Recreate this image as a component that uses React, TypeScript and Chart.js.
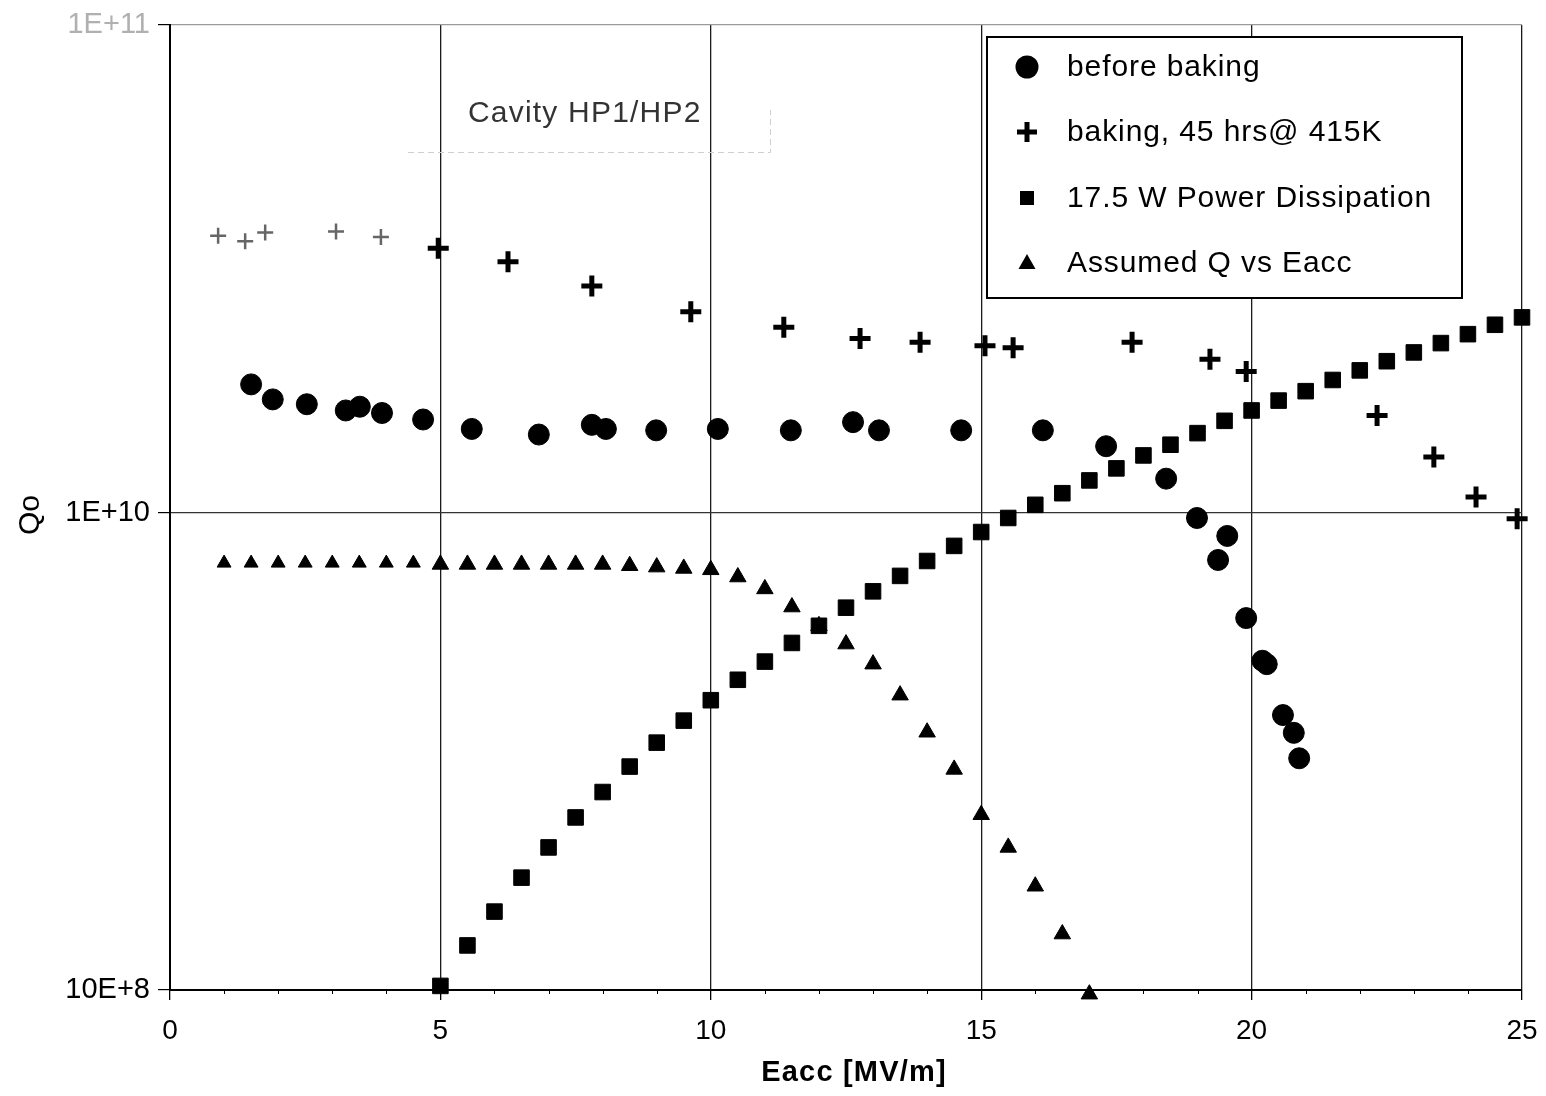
import React, { useEffect, useRef } from 'react';
import { Chart, registerables } from 'chart.js';

Chart.register(...registerables);

const FONT = '"Liberation Sans", Arial, Helvetica, sans-serif';

// before baking (circles)
const beforeX = [1.50, 1.90, 2.53, 3.25, 3.51, 3.92, 4.68, 5.58, 6.82, 7.80, 8.06, 8.99, 10.13, 11.48, 12.63, 13.11, 14.63, 16.14, 17.31, 18.42, 18.99, 19.38, 19.55, 19.90, 20.20, 20.28, 20.58, 20.78, 20.88];
const beforeY = [1.86e10, 1.73e10, 1.69e10, 1.64e10, 1.67e10, 1.62e10, 1.57e10, 1.50e10, 1.46e10, 1.53e10, 1.50e10, 1.49e10, 1.50e10, 1.49e10, 1.55e10, 1.49e10, 1.49e10, 1.49e10, 1.38e10, 1.18e10, 9.76e9, 7.97e9, 8.95e9, 6.02e9, 4.90e9, 4.82e9, 3.77e9, 3.46e9, 3.06e9];

// baking, 45 hrs @ 415K (crosses)
const bakingX = [0.89, 1.39, 1.76, 3.07, 3.90, 4.96, 6.25, 7.80, 9.63, 11.35, 12.76, 13.87, 15.07, 15.59, 17.79, 19.23, 19.90, 22.32, 23.37, 24.15, 24.91];
const bakingY = [3.81e10, 3.71e10, 3.87e10, 3.89e10, 3.79e10, 3.59e10, 3.36e10, 2.99e10, 2.64e10, 2.45e10, 2.32e10, 2.28e10, 2.24e10, 2.22e10, 2.28e10, 2.10e10, 1.98e10, 1.60e10, 1.31e10, 1.08e10, 9.72e9];

// 17.5 W Power Dissipation (squares)
const powerX = [5, 5.5, 6, 6.5, 7, 7.5, 8, 8.5, 9, 9.5, 10, 10.5, 11, 11.5, 12, 12.5, 13, 13.5, 14, 14.5, 15, 15.5, 16, 16.5, 17, 17.5, 18, 18.5, 19, 19.5, 20, 20.5, 21, 21.5, 22, 22.5, 23, 23.5, 24, 24.5, 25];
const powerY = [1.02e9, 1.24e9, 1.46e9, 1.72e9, 1.99e9, 2.30e9, 2.60e9, 2.94e9, 3.30e9, 3.67e9, 4.05e9, 4.47e9, 4.88e9, 5.34e9, 5.80e9, 6.33e9, 6.85e9, 7.38e9, 7.93e9, 8.53e9, 9.12e9, 9.76e9, 1.04e10, 1.10e10, 1.17e10, 1.24e10, 1.32e10, 1.39e10, 1.47e10, 1.56e10, 1.64e10, 1.72e10, 1.80e10, 1.90e10, 1.99e10, 2.08e10, 2.17e10, 2.27e10, 2.37e10, 2.48e10, 2.57e10];

// Assumed Q vs Eacc (triangles)
const assumedX = [1, 1.5, 2, 2.5, 3, 3.5, 4, 4.5, 5, 5.5, 6, 6.5, 7, 7.5, 8, 8.5, 9, 9.5, 10, 10.5, 11, 11.5, 12, 12.5, 13, 13.5, 14, 14.5, 15, 15.5, 16, 16.5, 17];
const assumedY = [7.85e9, 7.85e9, 7.85e9, 7.85e9, 7.85e9, 7.85e9, 7.85e9, 7.85e9, 7.8e9, 7.8e9, 7.8e9, 7.8e9, 7.8e9, 7.8e9, 7.8e9, 7.75e9, 7.7e9, 7.65e9, 7.6e9, 7.34e9, 6.93e9, 6.35e9, 5.80e9, 5.31e9, 4.82e9, 4.15e9, 3.47e9, 2.90e9, 2.33e9, 1.99e9, 1.65e9, 1.31e9, 0.98e9];

const seriesLabels = ['before baking', 'baking, 45 hrs@ 415K', '17.5 W Power Dissipation', 'Assumed Q vs Eacc'];

const xTickValues = [0, 5, 10, 15, 20, 25];
// the scanned axis top sits slightly above the nominal 1E+11 decade
const yAxisMin = 1e9;
const yAxisMax = 1.054e11;
const yTickValues = [1e9, 1e10, yAxisMax];
const yTickLabels = ['10E+8', '1E+10', '1E+11'];

const annotationText = 'Cavity HP1/HP2';
const xTitle = 'Eacc [MV/m]';
const yTitle = 'Qo';

const toPts = (xs: number[], ys: number[]) => xs.map((x, i) => ({ x, y: ys[i] }));

const decorPlugin = {
  id: 'decor',
  afterDraw(chart: any) {
    const ctx = chart.ctx as CanvasRenderingContext2D;
    const area = chart.chartArea;
    const xs = chart.scales.x;
    ctx.save();

    // minor x ticks
    ctx.strokeStyle = '#000';
    ctx.lineWidth = 1;
    for (let v = 1; v < 25; v++) {
      if (v % 5 === 0) continue;
      const px = Math.round(xs.getPixelForValue(v)) + 0.5;
      ctx.beginPath();
      ctx.moveTo(px, area.bottom);
      ctx.lineTo(px, area.bottom + 4);
      ctx.stroke();
    }

    // annotation box (faint)
    ctx.strokeStyle = '#cfcfcf';
    ctx.setLineDash([6, 4]);
    ctx.beginPath();
    ctx.moveTo(408, 152.5);
    ctx.lineTo(770.5, 152.5);
    ctx.lineTo(770.5, 110);
    ctx.stroke();
    ctx.setLineDash([]);

    ctx.fillStyle = '#333';
    ctx.font = `30px ${FONT}`;
    (ctx as any).letterSpacing = '1.2px';
    ctx.textAlign = 'left';
    ctx.textBaseline = 'middle';
    ctx.fillText(annotationText, 468, 114);
    (ctx as any).letterSpacing = '0px';

    // legend
    const lx = 987, ly = 37, lw = 475, lh = 261;
    ctx.fillStyle = '#fff';
    ctx.fillRect(lx, ly, lw, lh);
    ctx.strokeStyle = '#000';
    ctx.lineWidth = 2;
    ctx.strokeRect(lx, ly, lw, lh);

    const rows = [67, 132, 198, 263];
    const mx = 1027;
    ctx.fillStyle = '#000';
    ctx.beginPath();
    ctx.arc(mx, rows[0], 11.5, 0, Math.PI * 2);
    ctx.fill();
    ctx.lineWidth = 5;
    ctx.beginPath();
    ctx.moveTo(mx - 10, rows[1]);
    ctx.lineTo(mx + 10, rows[1]);
    ctx.moveTo(mx, rows[1] - 10);
    ctx.lineTo(mx, rows[1] + 10);
    ctx.stroke();
    ctx.fillRect(mx - 7, rows[2] - 7, 14, 14);
    ctx.beginPath();
    ctx.moveTo(mx, rows[3] - 9);
    ctx.lineTo(mx + 8.5, rows[3] + 6);
    ctx.lineTo(mx - 8.5, rows[3] + 6);
    ctx.closePath();
    ctx.fill();

    ctx.font = `30px ${FONT}`;
    (ctx as any).letterSpacing = '0.9px';
    ctx.textAlign = 'left';
    ctx.textBaseline = 'middle';
    chart.data.datasets.forEach((ds: any, i: number) => {
      ctx.fillText(ds.label, 1067, rows[i] + 1);
    });
    (ctx as any).letterSpacing = '0px';

    // axis titles
    ctx.font = `bold 29px ${FONT}`;
    (ctx as any).letterSpacing = '1.2px';
    ctx.textAlign = 'center';
    ctx.fillText(xTitle, 854, 1073);
    (ctx as any).letterSpacing = '0px';

    ctx.save();
    ctx.translate(31, 515);
    ctx.rotate(-Math.PI / 2);
    ctx.font = `30px ${FONT}`;
    ctx.textAlign = 'center';
    ctx.textBaseline = 'middle';
    ctx.fillText(yTitle, 0, 0);
    ctx.restore();

    ctx.restore();
  },
};

export default function App() {
  const ref = useRef<HTMLCanvasElement | null>(null);

  useEffect(() => {
    if (!ref.current) return;
    const chart = new Chart(ref.current, {
      type: 'scatter',
      data: {
        datasets: [
          {
            label: seriesLabels[0],
            data: toPts(beforeX, beforeY),
            pointStyle: 'circle',
            pointRadius: 10.5,
            pointBackgroundColor: '#000',
            pointBorderColor: '#000',
            pointBorderWidth: 1,
            clip: false,
          } as any,
          {
            label: seriesLabels[1],
            data: toPts(bakingX, bakingY),
            pointStyle: 'cross',
            pointRadius: (c: any) => (c.dataIndex < 5 ? 8 : 10.5),
            pointBorderColor: (c: any) => (c.dataIndex < 5 ? '#666' : '#000'),
            pointBorderWidth: (c: any) => (c.dataIndex < 5 ? 2.5 : 5),
            clip: false,
          } as any,
          {
            label: seriesLabels[2],
            data: toPts(powerX, powerY),
            pointStyle: 'rect',
            pointRadius: 11,
            pointBackgroundColor: '#000',
            pointBorderColor: '#000',
            pointBorderWidth: 1,
            clip: false,
          } as any,
          {
            label: seriesLabels[3],
            data: toPts(assumedX, assumedY),
            pointStyle: 'triangle',
            pointRadius: (c: any) => (c.dataIndex < 8 ? 8 : 9.5),
            pointBackgroundColor: '#000',
            pointBorderColor: '#000',
            pointBorderWidth: 1,
            clip: false,
          } as any,
        ],
      },
      options: {
        responsive: false,
        animation: false,
        devicePixelRatio: 1,
        layout: { padding: { left: 0, right: 24, top: 25, bottom: 0 } },
        plugins: { legend: { display: false }, tooltip: { enabled: false } },
        scales: {
          x: {
            type: 'linear',
            min: 0,
            max: 25,
            afterBuildTicks: (s: any) => {
              s.ticks = xTickValues.map((v) => ({ value: v }));
            },
            ticks: {
              color: '#000',
              font: { size: 28, family: FONT },
              padding: 14,
              maxRotation: 0,
              autoSkip: false,
            },
            grid: {
              color: (c: any) => (c.tick && c.tick.value === 0 ? 'rgba(0,0,0,0)' : '#1a1a1a'),
              lineWidth: 1.3,
              tickLength: 10,
              tickColor: '#000',
            },
            border: { color: '#000', width: 2 },
            afterFit: (s: any) => {
              s.height = 106;
              s.paddingLeft = 0;
              s.paddingRight = 0;
            },
          },
          y: {
            type: 'logarithmic',
            min: yAxisMin,
            max: yAxisMax,
            afterBuildTicks: (s: any) => {
              s.ticks = yTickValues.map((v) => ({ value: v }));
            },
            ticks: {
              callback: (v: any) => {
                const i = yTickValues.indexOf(Number(v));
                return i >= 0 ? yTickLabels[i] : '';
              },
              color: (c: any) => (c.tick && c.tick.value === yAxisMax ? '#b0b0b0' : '#000'),
              font: { size: 29, family: FONT },
              padding: 8,
              autoSkip: false,
            },
            grid: {
              color: (c: any) => (c.tick && c.tick.value === yAxisMax ? '#9a9a9a' : '#333'),
              lineWidth: 1.2,
              tickLength: 12,
              tickColor: '#000',
            },
            border: { color: '#000', width: 2 },
            afterFit: (s: any) => {
              s.width = 170;
              s.paddingTop = 0;
              s.paddingBottom = 0;
            },
          },
        },
      } as any,
      plugins: [decorPlugin],
    });
    return () => chart.destroy();
  }, []);

  return (
    <div style={{ position: 'absolute', left: 0, top: 0, width: 1546, height: 1096, background: '#fff' }}>
      <canvas ref={ref} width={1546} height={1096} style={{ display: 'block', width: 1546, height: 1096 }} />
    </div>
  );
}
